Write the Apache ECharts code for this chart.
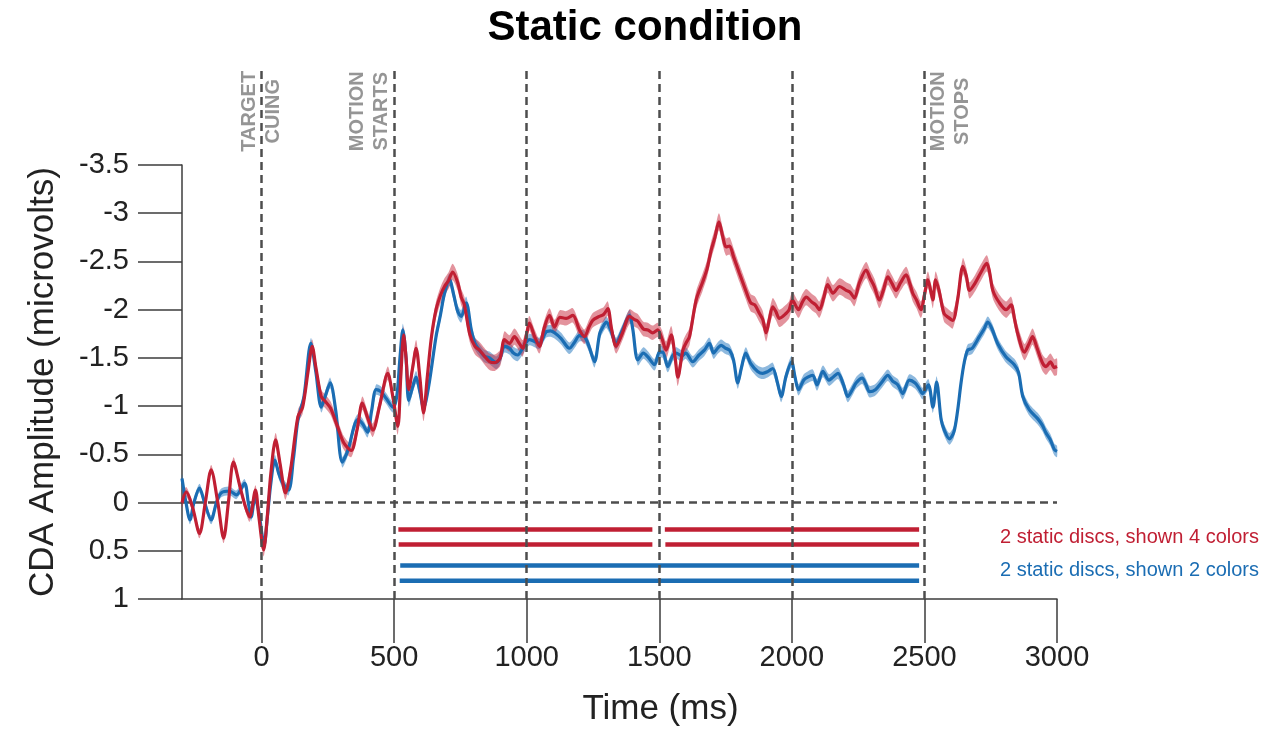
<!DOCTYPE html>
<html>
<head>
<meta charset="utf-8">
<script src="https://cdn.jsdelivr.net/npm/echarts@6/dist/echarts.min.js"></script>
<style>html,body{margin:0;padding:0;background:#fff}#c{width:1270px;height:732px}</style>
</head>
<body>
<div id="c"></div>
<script>
// ---------------- DATA ----------------
const RED_NAME = '2 static discs, shown 4 colors';
const BLUE_NAME = '2 static discs, shown 2 colors';

const redTime = [-300,-284,-260,-234,-212,-190,-165,-143,-125,-106,-80,-60,-45,-23,-10,8,20,35,53,70,90,110,137,155,175,191,205,225,240,260,285,310,338,360,380,400,420,445,476,495,514,525,536,545,555,570,583,597,611,625,640,658,675,690,705,721,740,753,765,785,805,822,840,860,880,900,916,935,954,970,985,1000,1010,1030,1048,1065,1086,1105,1125,1149,1174,1199,1218,1235,1249,1274,1290,1306,1320,1337,1360,1388,1405,1419,1440,1457,1475,1494,1510,1526,1545,1560,1570,1589,1600,1614,1639,1664,1680,1696,1710,1725,1740,1752,1765,1780,1802,1826,1845,1860,1878,1890,1903,1915,1928,1940,1953,1978,1990,2002,2025,2040,2054,2075,2090,2104,2120,2135,2155,2180,2205,2220,2236,2255,2280,2296,2311,2330,2345,2362,2378,2393,2410,2431,2445,2456,2470,2487,2500,2513,2525,2532,2542,2555,2574,2590,2607,2625,2645,2658,2670,2690,2714,2735,2745,2758,2783,2808,2827,2840,2852,2877,2895,2908,2925,2945,2959,2975,2990,3000];
const redVals = [0.0,-0.11,0.05,0.32,0.0,-0.34,0.0,0.37,0.0,-0.42,-0.15,0.05,0.15,-0.13,0.15,0.49,0.2,-0.3,-0.65,-0.4,-0.1,-0.35,-0.89,-0.99,-1.35,-1.62,-1.4,-1.10,-1.05,-0.98,-0.8,-0.62,-0.54,-0.75,-1.03,-0.88,-0.75,-1.0,-1.34,-1.1,-0.79,-1.3,-1.74,-1.5,-1.17,-1.4,-1.6,-1.3,-0.93,-1.3,-1.7,-2.0,-2.15,-2.24,-2.3,-2.39,-2.28,-2.13,-2.05,-1.75,-1.62,-1.58,-1.52,-1.46,-1.45,-1.50,-1.69,-1.65,-1.72,-1.66,-1.60,-1.75,-1.86,-1.72,-1.62,-1.80,-1.94,-1.82,-1.92,-1.91,-1.94,-1.79,-1.72,-1.82,-1.89,-1.93,-1.95,-2.01,-1.80,-1.62,-1.75,-1.93,-1.90,-1.88,-1.80,-1.79,-1.76,-1.79,-1.70,-1.58,-1.74,-1.50,-1.30,-1.58,-1.65,-1.72,-2.10,-2.29,-2.42,-2.62,-2.75,-2.91,-2.75,-2.65,-2.66,-2.55,-2.38,-2.20,-2.07,-2.05,-1.96,-1.90,-1.76,-1.90,-2.03,-1.98,-1.91,-1.96,-2.00,-2.10,-2.00,-2.08,-2.13,-2.08,-2.05,-2.00,-2.12,-2.26,-2.17,-2.24,-2.20,-2.18,-2.12,-2.28,-2.41,-2.32,-2.24,-2.10,-2.20,-2.34,-2.27,-2.20,-2.28,-2.36,-2.27,-2.17,-2.10,-2.00,-2.15,-2.31,-2.18,-2.10,-2.31,-2.20,-1.96,-1.92,-1.89,-2.10,-2.45,-2.35,-2.20,-2.27,-2.39,-2.48,-2.40,-2.20,-2.07,-2.00,-2.05,-1.90,-1.75,-1.56,-1.65,-1.72,-1.60,-1.45,-1.41,-1.46,-1.40,-1.41];

const blueTime = [-300,-285,-270,-255,-234,-215,-190,-170,-152,-120,-95,-64,-50,-39,-25,-10,0,10,22,35,50,65,80,102,120,137,160,186,205,225,240,259,280,304,320,332,350,363,380,400,415,432,450,470,495,510,522,533,545,555,570,583,597,611,630,658,675,690,709,725,740,753,772,791,805,822,840,860,885,900,916,935,950,966,985,1010,1030,1048,1073,1090,1105,1130,1161,1180,1199,1218,1235,1256,1275,1287,1300,1318,1337,1360,1388,1400,1419,1440,1457,1482,1501,1513,1532,1550,1564,1585,1600,1626,1650,1670,1689,1705,1720,1733,1750,1765,1780,1796,1810,1826,1845,1871,1890,1910,1928,1945,1960,1978,1999,2012,2025,2045,2060,2079,2095,2117,2140,2155,2174,2195,2211,2230,2242,2265,2280,2293,2315,2340,2362,2380,2400,2418,2443,2465,2481,2493,2515,2532,2546,2563,2575,2594,2611,2625,2638,2650,2663,2680,2707,2725,2739,2755,2776,2808,2839,2855,2871,2896,2927,2945,2959,2975,2990,3000];
const blueVals = [-0.25,0.0,0.18,0.0,-0.15,0.0,0.18,0.0,-0.10,-0.12,-0.08,-0.20,0.0,0.15,-0.05,0.1,0.3,0.44,0.15,-0.2,-0.44,-0.3,-0.2,-0.13,-0.45,-0.85,-1.1,-1.65,-1.35,-0.99,-1.1,-1.24,-0.95,-0.42,-0.5,-0.6,-0.8,-0.86,-0.82,-0.73,-0.95,-1.17,-1.15,-1.08,-0.99,-1.1,-1.5,-1.79,-1.5,-1.06,-1.20,-1.30,-1.15,-0.98,-1.2,-1.72,-1.95,-2.17,-2.31,-2.15,-1.98,-1.93,-2.07,-1.79,-1.65,-1.58,-1.52,-1.50,-1.45,-1.50,-1.62,-1.60,-1.55,-1.53,-1.60,-1.69,-1.67,-1.65,-1.77,-1.78,-1.76,-1.70,-1.60,-1.66,-1.73,-1.72,-1.62,-1.46,-1.75,-1.82,-1.87,-1.78,-1.65,-1.78,-1.94,-1.80,-1.48,-1.55,-1.51,-1.43,-1.56,-1.56,-1.41,-1.52,-1.55,-1.52,-1.55,-1.46,-1.53,-1.58,-1.65,-1.55,-1.60,-1.63,-1.60,-1.58,-1.48,-1.24,-1.40,-1.55,-1.44,-1.36,-1.34,-1.36,-1.39,-1.25,-1.10,-1.31,-1.46,-1.30,-1.17,-1.27,-1.30,-1.32,-1.22,-1.36,-1.27,-1.30,-1.34,-1.22,-1.10,-1.18,-1.24,-1.29,-1.22,-1.15,-1.17,-1.25,-1.32,-1.26,-1.22,-1.13,-1.27,-1.24,-1.18,-1.13,-1.22,-0.99,-1.25,-0.86,-0.75,-0.66,-0.73,-0.95,-1.24,-1.45,-1.58,-1.60,-1.72,-1.80,-1.87,-1.80,-1.65,-1.51,-1.43,-1.35,-1.10,-0.96,-0.87,-0.80,-0.72,-0.65,-0.55,-0.53];

// standard-error half-widths of the shaded bands, per time window
const seWindowStart = [-300, 0, 500, 1000, 1500, 2000, 2500];
const redSE  = [0.05, 0.07, 0.085, 0.075, 0.09, 0.085, 0.085];
const blueSE = [0.045, 0.055, 0.065, 0.06, 0.06, 0.06, 0.06];

// significance bars: [start ms, end ms] segments and their row level
const sigRed   = [[516, 1474], [1521, 2480]];
const sigRed2  = [[517, 1474], [1523, 2480]];
const sigBlue  = [[523, 2480]];
const sigBlue2 = [[521, 2480]];
const sigRowLevel = [0.28, 0.435, 0.653, 0.81];

// event markers
const eventLines = [0, 500, 1000, 1500, 2000, 2500];
const eventLabels = ['TARGET\nCUING', 'MOTION\nSTARTS', 'MOTION\nSTOPS'];
const eventLabelX = [0, 407, 2598];

const xTicks = [0, 500, 1000, 1500, 2000, 2500, 3000];

// ---------------- STYLE ----------------
const RED = '#c01f33';
const BLUE = '#1b6db3';
const RED_BAND = 'rgba(200,40,60,0.5)';
const BLUE_BAND = 'rgba(30,115,190,0.5)';
const DASH = '#4d4d4d';
const FONT = '"Liberation Sans", Arial, Helvetica, sans-serif';

function seAt(t, ses) {
  let k = 0;
  for (let i = 0; i < seWindowStart.length; i++) if (t >= seWindowStart[i]) k = i;
  return ses[k];
}

function bandSeries(name, times, vals, ses, color) {
  return {
    type: 'custom', name: name, xAxisIndex: 0, yAxisIndex: 0, silent: true, z: 2,
    data: [[times[0], vals[0]]],
    renderItem: function (params, api) {
      const up = [], lo = [];
      for (let i = 0; i < times.length; i++) {
        const s = seAt(times[i], ses);
        up.push(api.coord([times[i], vals[i] - s]));
        lo.push(api.coord([times[i], vals[i] + s]));
      }
      return { type: 'polygon', shape: { points: up.concat(lo.reverse()), smooth: 0.25 },
               style: { fill: color, stroke: null } };
    }
  };
}

function sigSeries(segs, level, color) {
  return {
    type: 'custom', xAxisIndex: 0, yAxisIndex: 0, silent: true, z: 3,
    data: segs.map(s => [s[0], s[1], level]),
    renderItem: function (params, api) {
      const a = api.coord([api.value(0), api.value(2)]);
      const b = api.coord([api.value(1), api.value(2)]);
      return { type: 'line', shape: { x1: a[0], y1: a[1], x2: b[0], y2: b[1] },
               style: { stroke: color, lineWidth: 4.5 } };
    }
  };
}

const dashStyle = { color: DASH, width: 2.5, type: [8, 5] };

const chart = echarts.init(document.getElementById('c'), null, { renderer: 'canvas' });
chart.setOption({
  backgroundColor: '#fff',
  animation: false,
  title: {
    text: 'Static condition', left: 640, top: 2, textAlign: 'center',
    textStyle: { fontFamily: FONT, fontSize: 42, fontWeight: 'bold', color: '#000' }
  },
  legend: {
    orient: 'vertical', right: 6, top: 522, itemWidth: 0, itemHeight: 0, itemGap: 13,
    selectedMode: false, icon: 'rect',
    textStyle: { fontFamily: FONT, fontSize: 20 },
    data: [{ name: RED_NAME, textStyle: { color: RED } }, { name: BLUE_NAME, textStyle: { color: BLUE } }]
  },
  grid: [
    { left: 182, right: 213, top: 165, bottom: 133, outerBoundsMode: 'none', containLabel: false },
    { left: 182, right: 213, top: 70, bottom: 133, outerBoundsMode: 'none', containLabel: false }
  ],
  xAxis: [
    {
      type: 'value', gridIndex: 0, min: -300, max: 3000,
      name: 'Time (ms)', nameLocation: 'middle', nameGap: 93,
      nameTextStyle: { fontFamily: FONT, fontSize: 35, color: '#222', padding: [0, 0, 0, 82] },
      axisLine: { show: true, onZero: false, lineStyle: { color: '#3c3c3c', width: 1.5 } },
      axisTick: { show: true, inside: false, length: 44, customValues: xTicks, lineStyle: { color: '#3c3c3c', width: 1.5 } },
      axisLabel: { show: true, customValues: xTicks, margin: 44, fontFamily: FONT, fontSize: 29, color: '#222',
                   formatter: v => String(v) },
      splitLine: { show: false }
    },
    { type: 'value', gridIndex: 1, min: -300, max: 3000, show: false }
  ],
  yAxis: [
    {
      type: 'value', gridIndex: 0, inverse: true, min: -3.5, max: 1, interval: 0.5,
      name: 'CDA Amplitude (microvolts)', nameLocation: 'middle', nameRotate: 90, nameGap: 121,
      nameTextStyle: { fontFamily: FONT, fontSize: 35, color: '#222' },
      axisLine: { show: true, onZero: false, lineStyle: { color: '#3c3c3c', width: 1.5 } },
      axisTick: { show: true, inside: false, length: 44, lineStyle: { color: '#3c3c3c', width: 1.5 } },
      axisLabel: { show: true, margin: 53, fontFamily: FONT, fontSize: 29, color: '#222',
                   formatter: v => String(v) },
      splitLine: { show: false }
    },
    { type: 'value', gridIndex: 1, min: 0, max: 1, show: false }
  ],
  series: [
    bandSeries('band-blue', blueTime, blueVals, blueSE, BLUE_BAND),
    {
      type: 'line', name: BLUE_NAME, xAxisIndex: 0, yAxisIndex: 0, z: 4,
      data: blueTime.map((t, i) => [t, blueVals[i]]),
      showSymbol: false, smooth: 0.3, lineStyle: { color: BLUE, width: 3.2 }, itemStyle: { color: BLUE },
      markLine: {
        silent: true, symbol: 'none', z: 1, label: { show: false },
        lineStyle: dashStyle, emphasis: { disabled: true },
        data: [{ yAxis: 0 }]
      }
    },
    bandSeries('band-red', redTime, redVals, redSE, RED_BAND),
    {
      type: 'line', name: RED_NAME, xAxisIndex: 0, yAxisIndex: 0, z: 5,
      data: redTime.map((t, i) => [t, redVals[i]]),
      showSymbol: false, smooth: 0.3, lineStyle: { color: RED, width: 3.2 }, itemStyle: { color: RED }
    },
    sigSeries(sigRed, sigRowLevel[0], RED),
    sigSeries(sigRed2, sigRowLevel[1], RED),
    sigSeries(sigBlue, sigRowLevel[2], BLUE),
    sigSeries(sigBlue2, sigRowLevel[3], BLUE),
    {
      type: 'scatter', xAxisIndex: 1, yAxisIndex: 1, silent: true, z: 10,
      symbolSize: 0.01, itemStyle: { color: 'rgba(0,0,0,0)' },
      data: eventLabelX.map((x, i) => ({ value: [x, 0.922], label: { formatter: eventLabels[i] } })),
      label: {
        show: true, position: 'inside', rotate: 90, align: 'center', verticalAlign: 'middle',
        fontFamily: FONT, fontSize: 20, fontWeight: 'bold', color: '#7a7a7a', lineHeight: 24
      },
      markLine: {
        silent: true, symbol: 'none', z: 10, label: { show: false },
        lineStyle: dashStyle, emphasis: { disabled: true },
        data: eventLines.map(x => ({ xAxis: x }))
      }
    }
  ]
});
</script>
</body>
</html>
